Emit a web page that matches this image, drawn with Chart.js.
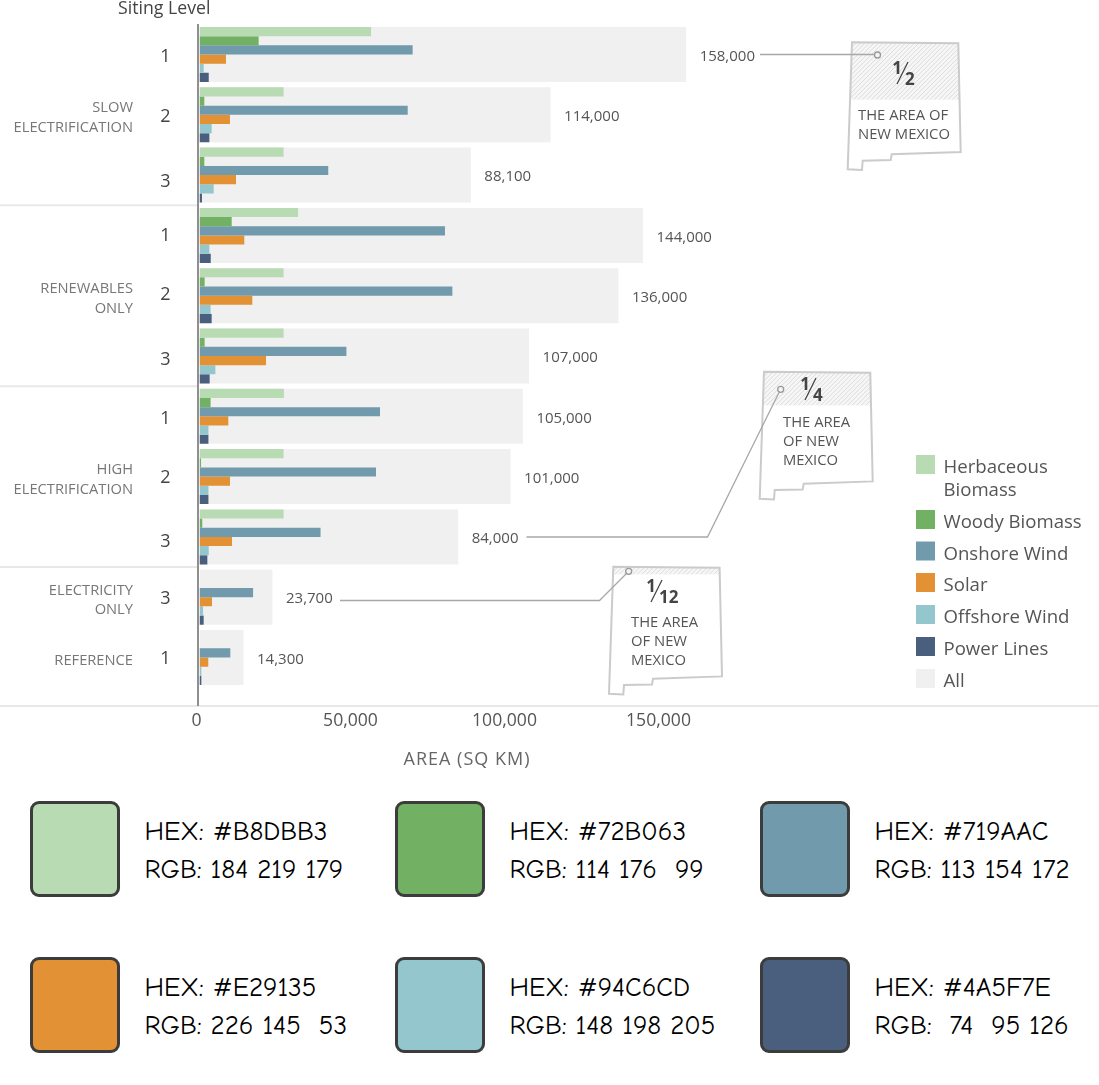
<!DOCTYPE html>
<html>
<head>
<meta charset="utf-8">
<title>Area by siting level</title>
<script src="https://cdn.jsdelivr.net/npm/chart.js@4"></script>
<style>
  html, body { margin: 0; padding: 0; background: #fff; }
  #wrap { position: relative; width: 1099px; height: 1085px; overflow: hidden; }
  #chart { position: absolute; left: 0; top: 0; }
  .swatch { position: absolute; width: 84px; height: 90px; border: 3px solid #3c3c3c; border-radius: 9px; }
  .hexline { position: absolute; font: 27px "Comic Sans MS", "Comic Neue", cursive; color: #000; white-space: pre; line-height: 30px; }
</style>
</head>
<body>
<div id="wrap">
  <canvas id="chart" width="1099" height="770"></canvas>
</div>
<script>
const sitingLevels = ['1', '2', '3', '1', '2', '3', '1', '2', '3', '3', '1']
const herbaceous = [55700, 27300, 27300, 32000, 27300, 27300, 27400, 27300, 27300, 0, 0]
const woody = [19200, 1560, 1560, 10450, 1670, 1670, 3600, 500, 900, 0, 0]
const onshoreWind = [69200, 67600, 41800, 79700, 82100, 47700, 58600, 57300, 39300, 17400, 10000]
const solar = [8600, 9900, 11850, 14550, 17150, 21600, 9350, 9900, 10550, 4050, 2850]
const offshoreWind = [1350, 3950, 4600, 3200, 3600, 5150, 2900, 2900, 3000, 1150, 600]
const powerLines = [3000, 3200, 800, 3650, 3950, 3300, 2900, 2900, 2550, 1350, 600]
const allTotals = [158000, 114000, 88100, 144000, 136000, 107000, 105000, 101000, 84000, 23700, 14300]

const xTicks = [0, 50000, 100000, 150000]
const seriesNames = ['Herbaceous Biomass', 'Woody Biomass', 'Onshore Wind', 'Solar', 'Offshore Wind', 'Power Lines']
const seriesColors = ['#B8DBB3', '#72B063', '#719AAC', '#E29135', '#94C6CD', '#4A5F7E']
const rgbLabels = ['184 219 179', '114 176  99', '113 154 172', '226 145  53', '148 198 205', ' 74  95 126']
const allColor = '#f0f0f0'

const groupNames = [['SLOW', 'ELECTRIFICATION'], ['RENEWABLES', 'ONLY'], ['HIGH', 'ELECTRIFICATION'], ['ELECTRICITY', 'ONLY'], ['REFERENCE']]
const groupRows = [1, 4, 7, 9, 10]
const groupEnds = [2.5, 5.5, 8.5]

const FONT = '"Open Sans", "Noto Sans", sans-serif'
const rowFill = 55 / 60.3

// the level digits are not evenly placed in the original
const levelNudge = [0.5, 1, 5, -1, -2, 2, 1, 0, 3, 0, -0.5]

// new mexico outline, first callout is the reference position
const nmOutline = [[852, 42.3], [958.3, 43.3], [960.7, 152], [891.7, 154.3], [890.7, 160], [862.7, 160.7], [862, 170], [847.7, 169.3]]
const callouts = [
  { dx: 0, dy: 0, hatch: 57.7, num: '1', den: '2', textX: 858, textY: 116, lines: ['THE AREA OF', 'NEW MEXICO'], fx: 904, fy: 74,
    leader: [[760, 54.5], [874, 54.5]], dot: [877.5, 55] },
  { dx: -88, dy: 329.4, hatch: 34, num: '1', den: '4', textX: 783, textY: 423, lines: ['THE AREA', 'OF NEW', 'MEXICO'], fx: 812, fy: 390,
    leader: [[526.5, 537], [707.5, 537], [779, 392.5]], dot: [780.7, 389.3] },
  { dx: -238.7, dy: 524.4, hatch: 8, num: '1', den: '12', textX: 631, textY: 623, lines: ['THE AREA', 'OF NEW', 'MEXICO'], fx: 658, fy: 592,
    leader: [[340, 600.5], [599.5, 600.5], [626.5, 573.5]], dot: [628.7, 571.3] }
]

function drawCallout(ctx, c) {
  let shape = new Path2D()
  nmOutline.forEach(function (p, i) {
    if (i == 0) shape.moveTo(p[0] + c.dx, p[1] + c.dy)
    else shape.lineTo(p[0] + c.dx, p[1] + c.dy)
  })
  shape.closePath()

  // hatched part of the state
  ctx.save()
  ctx.clip(shape)
  let top = 42 + c.dy
  let left = 840 + c.dx
  ctx.fillStyle = '#f6f6f6'
  ctx.fillRect(left, top, 130, c.hatch)
  ctx.beginPath()
  ctx.rect(left, top, 130, c.hatch)
  ctx.clip()
  ctx.strokeStyle = '#dcdcdc'
  ctx.lineWidth = 1
  for (let i = -c.hatch - 10; i < 135; i += 4.5) {
    ctx.beginPath()
    ctx.moveTo(left + i, top + c.hatch)
    ctx.lineTo(left + i + c.hatch, top)
    ctx.stroke()
  }
  ctx.restore()

  ctx.strokeStyle = '#cbcbcb'
  ctx.lineWidth = 2
  ctx.stroke(shape)

  // text
  ctx.fillStyle = '#555'
  ctx.font = '14.8px ' + FONT
  ctx.textAlign = 'left'
  ctx.textBaseline = 'middle'
  c.lines.forEach(function (line, i) {
    ctx.fillText(line, c.textX, c.textY + i * 19)
  })

  // fraction
  ctx.fillStyle = '#444'
  ctx.font = 'bold 17px ' + FONT
  ctx.textAlign = 'right'
  ctx.fillText(c.num, c.fx - 2, c.fy - 5)
  ctx.textAlign = 'left'
  ctx.fillText(c.den, c.fx + 1, c.fy + 6)
  ctx.strokeStyle = '#444'
  ctx.lineWidth = 1.3
  ctx.beginPath()
  ctx.moveTo(c.fx + 4, c.fy - 12)
  ctx.lineTo(c.fx - 7, c.fy + 10)
  ctx.stroke()
}

function drawLeader(ctx, c) {
  ctx.strokeStyle = '#a8a8a8'
  ctx.lineWidth = 1.3
  ctx.beginPath()
  c.leader.forEach(function (p, i) {
    if (i == 0) ctx.moveTo(p[0], p[1])
    else ctx.lineTo(p[0], p[1])
  })
  ctx.stroke()
  ctx.beginPath()
  ctx.arc(c.dot[0], c.dot[1], 3, 0, Math.PI * 2)
  ctx.fillStyle = '#f4f4f4'
  ctx.fill()
  ctx.strokeStyle = '#999'
  ctx.stroke()
}

const extras = {
  id: 'extras',
  afterDraw: function (chart) {
    let ctx = chart.ctx
    let xScale = chart.scales.x
    let yScale = chart.scales.y
    ctx.save()

    // separators
    ctx.strokeStyle = '#e8e8e8'
    ctx.lineWidth = 2
    groupEnds.forEach(function (g) {
      let y = yScale.getPixelForValue(g)
      ctx.beginPath()
      ctx.moveTo(0, y)
      ctx.lineTo(197, y)
      ctx.stroke()
    })
    ctx.beginPath()
    ctx.moveTo(0, 706)
    ctx.lineTo(1099, 706)
    ctx.stroke()

    // axis line
    ctx.strokeStyle = '#8f8f8f'
    ctx.lineWidth = 2
    ctx.beginPath()
    ctx.moveTo(198, 24)
    ctx.lineTo(198, 706)
    ctx.stroke()

    // headings
    ctx.textBaseline = 'middle'
    ctx.fillStyle = '#444'
    ctx.font = '17.7px ' + FONT
    ctx.textAlign = 'left'
    ctx.fillText('Siting Level', 118, 9)
    ctx.fillStyle = '#666'
    ctx.font = '18px ' + FONT
    ctx.letterSpacing = '1px'
    ctx.textAlign = 'center'
    ctx.fillText('AREA (SQ KM)', 467, 760)
    ctx.letterSpacing = '0px'

    // level digits
    ctx.fillStyle = '#444'
    ctx.font = '18px ' + FONT
    ctx.textAlign = 'right'
    sitingLevels.forEach(function (level, i) {
      ctx.fillText(level, 170.5, yScale.getPixelForValue(i) + levelNudge[i] + 1.5)
    })

    // scenario names
    ctx.fillStyle = '#777'
    ctx.font = '14.7px ' + FONT
    ctx.textAlign = 'right'
    groupNames.forEach(function (lines, i) {
      let mid = yScale.getPixelForValue(groupRows[i]) + 3
      lines.forEach(function (line, j) {
        ctx.fillText(line, 133, mid + (j - (lines.length - 1) / 2) * 19.5)
      })
    })

    // totals next to the grey bars
    ctx.fillStyle = '#555'
    ctx.font = '15px ' + FONT
    ctx.textAlign = 'left'
    allTotals.forEach(function (v, i) {
      ctx.fillText(v.toLocaleString('en-US'), xScale.getPixelForValue(v) + 13.5, yScale.getPixelForValue(i) + 2)
    })

    callouts.forEach(function (c) { drawCallout(ctx, c) })
    callouts.forEach(function (c) { drawLeader(ctx, c) })

    // legend
    let legendY = [464.5, 519.5, 551, 582.5, 614.5, 646.5, 678.5]
    let legendNames = [['Herbaceous', 'Biomass']].concat(seriesNames.slice(1).map(function (n) { return [n] })).concat([['All']])
    let legendColors = seriesColors.concat([allColor])
    ctx.font = '18.6px ' + FONT
    ctx.textAlign = 'left'
    legendNames.forEach(function (lines, i) {
      ctx.fillStyle = legendColors[i]
      ctx.fillRect(916, legendY[i] - 9.5, 19, 19)
      ctx.fillStyle = '#555'
      lines.forEach(function (line, j) {
        ctx.fillText(line, 943.5, legendY[i] + 3.5 + j * 23)
      })
    })
    ctx.restore()
  }
}

let seriesValues = [herbaceous, woody, onshoreWind, solar, offshoreWind, powerLines]
let datasets = seriesNames.map(function (name, i) {
  return {
    label: name,
    data: seriesValues[i],
    backgroundColor: seriesColors[i],
    order: 1,
    categoryPercentage: rowFill,
    barPercentage: 1
  }
})
// grey total behind each group
datasets.push({
  label: 'All',
  data: allTotals,
  backgroundColor: allColor,
  grouped: false,
  order: 2,
  categoryPercentage: rowFill,
  barPercentage: 1
})

new Chart(document.getElementById('chart').getContext('2d'), {
  type: 'bar',
  data: { labels: sitingLevels.map(function (s, i) { return i }), datasets: datasets },
  plugins: [extras],
  options: {
    indexAxis: 'y',
    responsive: false,
    animation: false,
    layout: { padding: { top: 24.35, right: 129.5, left: 0, bottom: 0 } },
    plugins: { legend: { display: false }, tooltip: { enabled: false } },
    scales: {
      x: {
        min: 0,
        max: 250000,
        grid: { display: false, drawTicks: false },
        border: { display: false },
        afterBuildTicks: function (scale) {
          scale.ticks = xTicks.map(function (v) { return { value: v } })
        },
        afterFit: function (scale) {
          scale.height = 82.35
          scale.paddingLeft = 0
          scale.paddingRight = 0
        },
        ticks: {
          maxRotation: 0,
          padding: 23,
          labelOffset: -3,
          color: '#555',
          font: { family: FONT, size: 17.6 },
          callback: function (v) { return v.toLocaleString('en-US') }
        }
      },
      y: {
        grid: { display: false, drawTicks: false },
        border: { display: false },
        afterFit: function (scale) {
          scale.width = 199.5
          scale.paddingTop = 0
          scale.paddingBottom = 0
        },
        ticks: { display: false }
      }
    }
  }
})

// colour key under the chart
let wrap = document.getElementById('wrap')
let colX = [30, 395, 760]
let rowY = [801, 957]
seriesColors.forEach(function (color, i) {
  let x = colX[i % 3]
  let y = rowY[Math.floor(i / 3)]
  let box = document.createElement('div')
  box.className = 'swatch'
  box.style.left = x + 'px'
  box.style.top = y + 'px'
  box.style.background = color
  wrap.appendChild(box)

  let hex = document.createElement('div')
  hex.className = 'hexline'
  hex.style.left = (x + 114.5) + 'px'
  hex.style.top = (y + 16) + 'px'
  hex.textContent = 'HEX: ' + color
  wrap.appendChild(hex)

  let rgb = document.createElement('div')
  rgb.className = 'hexline'
  rgb.style.left = (x + 114.5) + 'px'
  rgb.style.top = (y + 54) + 'px'
  rgb.textContent = 'RGB: ' + rgbLabels[i]
  wrap.appendChild(rgb)
})
</script>
</body>
</html>
